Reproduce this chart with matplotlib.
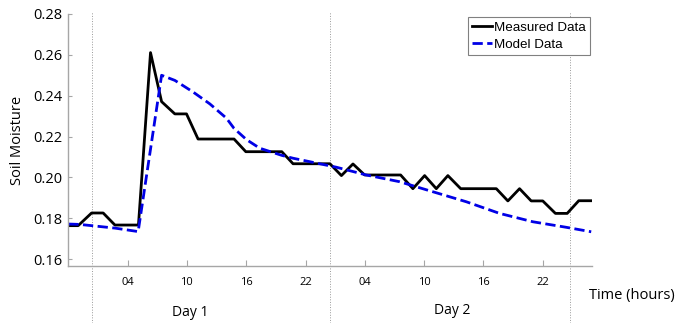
import numpy as np
import matplotlib.pyplot as plt

# time in hours from the start of day 1 (ticks at 04, 10, 16, 22 of each day)
measured_hours = [-2.0, -1.0, 0.36, 1.53, 2.72, 5.1, 6.32, 7.44, 8.78, 9.96, 11.13,
                  14.77, 15.96, 19.6, 20.74, 24.47, 25.63, 26.8, 27.98, 31.62,
                  32.86, 34.05, 35.23, 36.4, 37.7, 41.3, 42.47, 43.65, 44.83,
                  46.0, 47.28, 48.47, 49.64, 50.9]
measured_moisture = [0.1764, 0.1764, 0.1826, 0.1826, 0.1767, 0.1767, 0.2611, 0.2371,
                     0.2311, 0.2311, 0.2188, 0.2188, 0.2126, 0.2126, 0.2067, 0.2067,
                     0.2009, 0.2066, 0.2012, 0.2012, 0.1945, 0.2009, 0.1945, 0.2009,
                     0.1945, 0.1945, 0.1885, 0.1945, 0.1885, 0.1885, 0.1824, 0.1824,
                     0.1886, 0.1886]

model_hours = [-2.0, -0.82, 2.72, 5.07, 7.44, 8.78, 10.63, 12.32, 14.0, 14.77, 16.03,
               17.37, 19.6, 20.74, 25.12, 28.15, 31.52, 34.88, 38.26, 41.63, 45.0,
               48.37, 50.9]
model_moisture = [0.1772, 0.1770, 0.1752, 0.1735, 0.2500, 0.2475, 0.2418, 0.2360,
                  0.2290, 0.2240, 0.2185, 0.2143, 0.2108, 0.2094, 0.2050, 0.2012,
                  0.1979, 0.1930, 0.1881, 0.1824, 0.1783, 0.1756, 0.1734]

tick_hours = [4, 10, 16, 22, 28, 34, 40, 46]
tick_labels = ['04', '10', '16', '22', '04', '10', '16', '22']
day_bounds = [0.36, 24.47, 48.77]
y_ticks = [0.16, 0.18, 0.20, 0.22, 0.24, 0.26, 0.28]

font = 'Open Sans'
spine_gray = '#a6a6a6'

fig = plt.figure(figsize=(6.75, 3.23), dpi=100)
ax = fig.add_axes([0.1007, 0.1755, 0.7759, 0.7812])

ax.plot(measured_hours, measured_moisture, color='black', lw=2.0, label='Measured Data')
ax.plot(model_hours, model_moisture, color='#0000e6', lw=2.0, ls='--', label='Model Data')

for h in day_bounds:
    ax.axvline(h, ymin=-0.225, ymax=1.008, color='#999999', lw=0.7, ls=':', clip_on=False, zorder=0)

ax.set_xlim(-2.03, 50.95)
ax.set_ylim(0.1565, 0.28)
ax.set_xticks(tick_hours)
ax.set_xticklabels(tick_labels, fontfamily=font, fontsize=8)
ax.set_yticks(y_ticks)
ax.set_yticklabels(['%.2f' % v for v in y_ticks], fontfamily=font, fontsize=10.5)

for side in ['top', 'right']:
    ax.spines[side].set_visible(False)
for side in ['left', 'bottom']:
    ax.spines[side].set_color(spine_gray)
    ax.spines[side].set_linewidth(1.0)
ax.tick_params(axis='y', direction='in', length=3, color=spine_gray, pad=4)
ax.tick_params(axis='x', direction='in', length=4, color=spine_gray, pad=8)

ax.set_ylabel('Soil Moisture', fontfamily=font, fontsize=10.5, labelpad=6)

fig.text(190.7 / 675, 1 - 313 / 323, 'Day 1', fontfamily=font, fontsize=10,
         ha='center', va='center')
fig.text(452.5 / 675, 1 - 311 / 323, 'Day 2', fontfamily=font, fontsize=10,
         ha='center', va='center')
fig.text(589 / 675, 1 - 296 / 323, 'Time (hours)', fontfamily=font, fontsize=10.5,
         ha='left', va='center')

leg = ax.legend(loc='upper right', bbox_to_anchor=(590 / 675, 1 - 17.3 / 323),
                bbox_transform=fig.transFigure, borderaxespad=0, fancybox=False,
                framealpha=1, edgecolor='#808080', handlelength=1.5,
                handletextpad=0.15, labelspacing=0.35, borderpad=0.32,
                prop={'family': 'Liberation Sans', 'size': 9.6})
leg.get_frame().set_linewidth(0.8)

fig.savefig('out.png', dpi=100)
